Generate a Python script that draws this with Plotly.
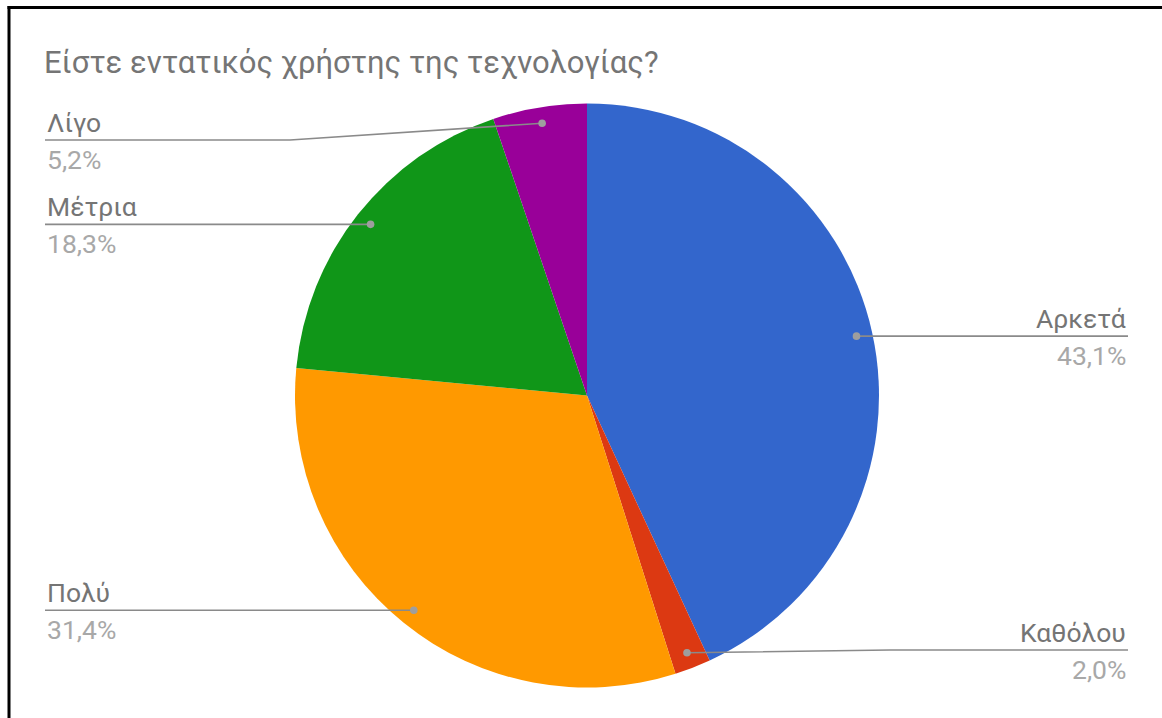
import math
import plotly.graph_objects as go

# Survey answers, clockwise from 12 o'clock
labels = ["Αρκετά", "Καθόλου", "Πολύ", "Μέτρια", "Λίγο"]
values = [43.1, 2.0, 31.4, 18.3, 5.2]
colors = ["#3366cc", "#dc3912", "#ff9900", "#109618", "#990099"]
title = "Είστε εντατικός χρήστης της τεχνολογίας?"

W, H = 1162, 718
CX, CY, R = 587, 395.5, 292          # pie centre and radius in pixels
DOT_R = 0.945 * R                     # where the leader lines start
RIGHT_X, LEFT_X = 1128, 45            # label column edges
# label rows that are nudged away from the slice mid-point
row_override = {"Καθόλου": (650, 890), "Λίγο": (140, 290)}

fig = go.Figure()

fig.add_trace(go.Pie(
    labels=labels, values=values, sort=False, direction="clockwise", rotation=0,
    marker=dict(colors=colors, line=dict(width=0)),
    textinfo="none", showlegend=False, hoverinfo="label+percent",
    domain=dict(x=[(CX - R) / W, (CX + R) / W],
                y=[1 - (CY + R) / H, 1 - (CY - R) / H]),
))

shapes = []
annotations = []
total = sum(values)
cum = 0.0
grey_line = "#8a8a8a"
for lab, v in zip(labels, values):
    mid = (cum + v / 2) / total * 2 * math.pi
    cum += v
    dx = CX + DOT_R * math.sin(mid)
    dy = CY - DOT_R * math.cos(mid)
    right = math.sin(mid) > 0
    end_x = RIGHT_X if right else LEFT_X
    if lab in row_override:
        ly, ex = row_override[lab]
        path = f"M{dx},{dy} L{ex},{ly} L{end_x},{ly}"
    else:
        ly = dy
        path = f"M{dx},{dy} L{end_x},{ly}"
    shapes.append(dict(type="path", path=path, xref="x", yref="y",
                       line=dict(color=grey_line, width=1.6), layer="above"))
    shapes.append(dict(type="circle", xref="x", yref="y",
                       x0=dx - 3.8, x1=dx + 3.8, y0=dy - 3.8, y1=dy + 3.8,
                       fillcolor="#9e9e9e", line=dict(width=0), layer="above"))
    anchor = "right" if right else "left"
    annotations.append(dict(x=end_x, y=ly - 18, xref="x", yref="y", text=lab,
                            showarrow=False, xanchor=anchor, yanchor="middle",
                            font=dict(family="Roboto", size=26.5, color="#757575")))
    pct = f"{v:.1f}".replace(".", ",") + "%"
    annotations.append(dict(x=end_x, y=ly + 19, xref="x", yref="y", text=pct,
                            showarrow=False, xanchor=anchor, yanchor="middle",
                            font=dict(family="Roboto", size=26.5, color="#a8a8a8")))

annotations.append(dict(x=LEFT_X - 3, y=62, xref="x", yref="y", text=title,
                        showarrow=False, xanchor="left", yanchor="middle",
                        font=dict(family="Roboto", size=31, color="#757575")))

# frame along the top and left edges
shapes.append(dict(type="line", xref="x", yref="y", x0=7.5, x1=W + 5, y0=7.5, y1=7.5,
                   line=dict(color="black", width=3), layer="above"))
shapes.append(dict(type="line", xref="x", yref="y", x0=9, x1=9, y0=6, y1=H + 5,
                   line=dict(color="black", width=3), layer="above"))

fig.update_layout(
    width=W, height=H, margin=dict(l=0, r=0, t=0, b=0),
    paper_bgcolor="white", plot_bgcolor="white",
    xaxis=dict(range=[0, W], visible=False, domain=[0, 1], fixedrange=True),
    yaxis=dict(range=[H, 0], visible=False, domain=[0, 1], fixedrange=True),
    shapes=shapes, annotations=annotations,
)

fig.write_html("out.html")
